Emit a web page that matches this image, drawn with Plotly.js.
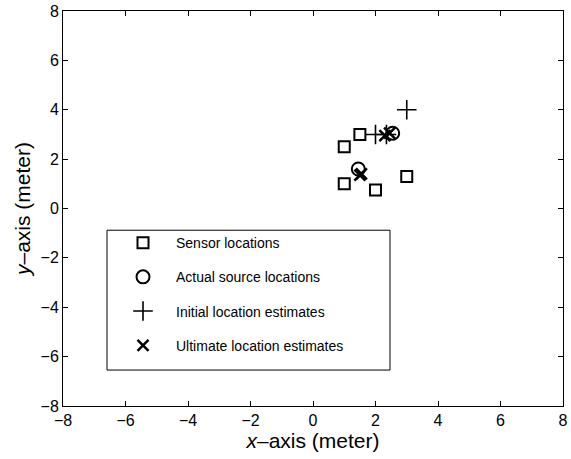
<!DOCTYPE html>
<html><head><meta charset="utf-8">
<script src="https://cdn.plot.ly/plotly-3.0.1.min.js"></script>
<style>body{margin:0;background:#fff}#plot{width:571px;height:459px}</style>
</head><body><div id="plot"></div>
<script>
const sensorX = [1, 1.5, 1, 2, 3];
const sensorY = [2.5, 3, 1, 0.75, 1.3];
const sourceX = [1.45, 2.55];
const sourceY = [1.6, 3.05];
const initX = [2, 3, 2.35];
const initY = [3, 4, 3.0];
const ultX = [1.5, 1.55, 2.3, 2.45];
const ultY = [1.35, 1.4, 2.95, 3.05];
const names = ["Sensor locations", "Actual source locations", "Initial location estimates", "Ultimate location estimates"];
const tickVals = [-8, -6, -4, -2, 0, 2, 4, 6, 8];
const tickText = ["\u22128", "\u22126", "\u22124", "\u22122", "0", "2", "4", "6", "8"];

const traces = [
  {x: sensorX, y: sensorY, name: names[0], legendgroup: "a", mode: "markers", type: "scatter",
   marker: {symbol: "square-open", size: 11, color: "black", line: {width: 2}}},
  {x: sourceX, y: sourceY, name: names[1], legendgroup: "b", mode: "markers", type: "scatter",
   marker: {symbol: "circle-open", size: 13, color: "black", line: {width: 2}}},
  {x: initX, y: initY, name: names[2], legendgroup: "c", mode: "markers", type: "scatter",
   marker: {symbol: "cross-thin-open", size: 14, color: "black", line: {width: 1.6, color: "black"}}},
  {x: ultX, y: ultY, name: names[3], legendgroup: "d", mode: "markers", type: "scatter",
   marker: {symbol: "x-thin-open", size: 11, color: "black", line: {width: 2.5, color: "black"}}}
];

const axisCommon = {
  range: [-8, 8], tickvals: tickVals, ticktext: tickText, ticks: "inside", ticklen: 5,
  tickcolor: "black", showline: true, linecolor: "black", linewidth: 1, mirror: "ticks",
  showgrid: false, zeroline: false, tickfont: {family: "Liberation Sans, Arial", size: 16, color: "black"}
};

const layout = {
  width: 571, height: 459,
  margin: {l: 63, r: 8, t: 11, b: 53},
  paper_bgcolor: "white", plot_bgcolor: "white",
  font: {family: "Liberation Sans, Arial", color: "black"},
  xaxis: Object.assign({}, axisCommon, {title: {text: "<i>x</i>\u2013axis (meter)", font: {size: 21}, standoff: 1}}),
  yaxis: Object.assign({}, axisCommon, {title: {text: "<i>y</i>\u2013axis (meter)", font: {size: 21}, standoff: 4}}),
  showlegend: true,
  legend: {x: 0.094, y: 0.453, xanchor: "left", yanchor: "top", bgcolor: "rgba(0,0,0,0)",
    borderwidth: 0, font: {size: 14, family: "Liberation Sans, Arial"}, traceorder: "grouped",
    tracegroupgap: 13, itemwidth: 56},
  shapes: [{type: "rect", xref: "paper", yref: "paper", x0: 0.088, x1: 0.654, y0: 0.091, y1: 0.445,
    line: {color: "black", width: 1}, fillcolor: "white", layer: "below"}]
};

Plotly.newPlot("plot", traces, layout, {displayModeBar: false, staticPlot: true});
</script></body></html>
